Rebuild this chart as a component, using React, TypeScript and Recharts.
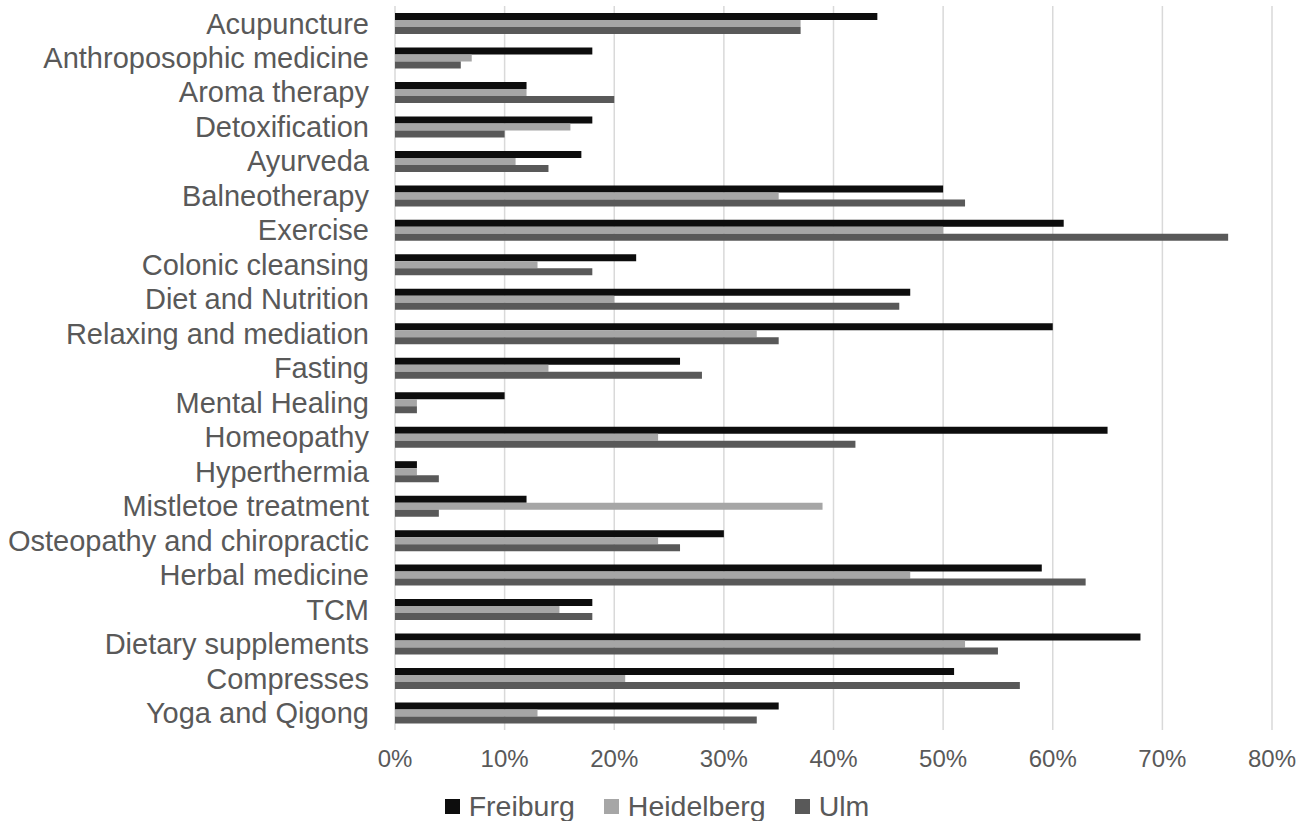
import { BarChart, Bar, XAxis, YAxis, CartesianGrid, Legend } from 'recharts';

const therapies = [
    'Acupuncture',
    'Anthroposophic medicine',
    'Aroma therapy',
    'Detoxification ',
    'Ayurveda',
    'Balneotherapy',
    'Exercise',
    'Colonic cleansing',
    'Diet and Nutrition',
    'Relaxing and mediation',
    'Fasting',
    'Mental Healing',
    'Homeopathy',
    'Hyperthermia',
    'Mistletoe treatment',
    'Osteopathy and chiropractic',
    'Herbal medicine',
    'TCM',
    'Dietary supplements',
    'Compresses',
    'Yoga and Qigong',
];

const freiburg = [44, 18, 12, 18, 17, 50, 61, 22, 47, 60, 26, 10, 65, 2, 12, 30, 59, 18, 68, 51, 35];
const heidelberg = [37, 7, 12, 16, 11, 35, 50, 13, 20, 33, 14, 2, 24, 2, 39, 24, 47, 15, 52, 21, 13];
const ulm = [37, 6, 20, 10, 14, 52, 76, 18, 46, 35, 28, 2, 42, 4, 4, 26, 63, 18, 55, 57, 33];

const xTicks = [0, 10, 20, 30, 40, 50, 60, 70, 80];

const seriesColors = {
    Freiburg: '#0d0d0d',
    Heidelberg: '#a6a6a6',
    Ulm: '#595959',
};

const data = therapies.map((name, i) => ({
    name,
    Freiburg: freiburg[i],
    Heidelberg: heidelberg[i],
    Ulm: ulm[i],
}));

const font = '"Liberation Sans", Arial, sans-serif';

function renderLegend(props: any) {
    const items = props.payload || [];
    return (
        <div
            style={{
                display: 'flex',
                justifyContent: 'center',
                alignItems: 'center',
                height: 41,
                boxSizing: 'border-box',
                paddingTop: 12,
                paddingLeft: 42,
                fontFamily: font,
                fontSize: 28.5,
                color: '#595959',
            }}
        >
            {items.map((item: any, i: number) => (
                <div
                    key={item.value}
                    style={{ display: 'flex', alignItems: 'center', marginLeft: i === 0 ? 0 : 29 }}
                >
                    <span
                        style={{
                            display: 'inline-block',
                            width: 15,
                            height: 15,
                            backgroundColor: item.color,
                            marginRight: 9,
                        }}
                    />
                    <span>{item.value}</span>
                </div>
            ))}
        </div>
    );
}

export default function App() {
    return (
        <div style={{ position: 'absolute', left: 0, top: 0, width: 1309, height: 821, background: '#fff' }}>
            <BarChart
                width={1309}
                height={821}
                data={data}
                layout="vertical"
                margin={{ top: 6, right: 37, left: 0, bottom: 0 }}
                barGap={0}
            >
                <CartesianGrid horizontal={false} stroke="#d9d9d9" strokeWidth={1.5} />
                <XAxis
                    type="number"
                    domain={[0, 80]}
                    ticks={xTicks}
                    tickFormatter={(v) => `${v}%`}
                    axisLine={false}
                    tickLine={false}
                    tickSize={0}
                    tickMargin={20}
                    height={50}
                    interval={0}
                    tick={{ fontSize: 24, fill: '#595959', fontFamily: font }}
                />
                <YAxis
                    type="category"
                    dataKey="name"
                    width={395}
                    axisLine={false}
                    tickLine={false}
                    tickSize={0}
                    tickMargin={26}
                    interval={0}
                    tick={{ fontSize: 29, fill: '#595959', fontFamily: font }}
                />
                <Legend verticalAlign="bottom" height={41} content={renderLegend} />
                <Bar dataKey="Freiburg" fill={seriesColors.Freiburg} barSize={7} isAnimationActive={false} />
                <Bar dataKey="Heidelberg" fill={seriesColors.Heidelberg} barSize={7} isAnimationActive={false} />
                <Bar dataKey="Ulm" fill={seriesColors.Ulm} barSize={7} isAnimationActive={false} />
            </BarChart>
        </div>
    );
}
